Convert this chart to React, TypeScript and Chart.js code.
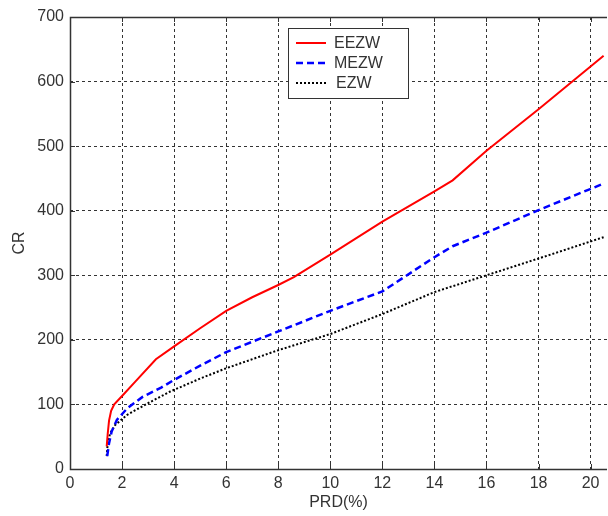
import React, { useEffect, useRef } from "react";
import { Chart, registerables } from "chart.js";

Chart.register(...registerables);

// EEZW (red, solid)
const eezwPRD = [1.41, 1.45, 1.5, 1.58, 1.7, 2.0, 2.5, 3.3, 4.0, 5.0, 6.0, 7.0, 8.0, 8.6, 10.0, 12.0, 14.0, 14.7, 16.0, 18.0, 20.5];
const eezwCR = [35, 55, 75, 90, 100, 113, 135, 170, 190, 218, 245, 266, 285, 297, 332, 383, 430, 447, 493, 557, 640];

// MEZW (blue, dashed)
const mezwPRD = [1.43, 1.5, 1.6, 1.8, 2.2, 2.8, 3.5, 4.0, 5.0, 6.0, 8.0, 10.0, 12.0, 14.0, 14.7, 16.0, 18.0, 20.5];
const mezwCR = [20, 40, 58, 76, 94, 112, 126, 138, 160, 181, 213, 245, 275, 328, 345, 366, 401, 442];

// EZW (black, dotted)
const ezwPRD = [1.41, 1.45, 1.54, 1.73, 2.2, 3.0, 3.85, 5.0, 6.0, 8.0, 10.0, 12.0, 14.0, 16.0, 18.0, 20.5];
const ezwCR = [20, 40, 55, 68, 84, 102, 120, 140, 156, 184, 209, 240, 274, 300, 326, 359];

const seriesNames = ["EEZW", "MEZW", "EZW"];
const xTitle = "PRD(%)";
const yTitle = "CR";

const FONT = "'Liberation Sans', Arial, sans-serif";
const TEXT = "#333333";

const toPoints = (xs: number[], ys: number[]) => xs.map((x, i) => ({ x, y: ys[i] }));

const styles = [
  { color: "#ff0000", dash: [] as number[], width: 2 },
  { color: "#0000ff", dash: [7, 4], width: 2.5 },
  { color: "#000000", dash: [2, 2], width: 2 },
];

const framePlugin = {
  id: "frame",
  afterDraw(chart: any) {
    const { ctx, chartArea } = chart;
    const { left, right, top, bottom } = chartArea;
    const xs = chart.scales.x;
    const ys = chart.scales.y;
    ctx.save();
    ctx.setLineDash([]);
    ctx.strokeStyle = "#333333";
    ctx.lineWidth = 1;
    // inner tick marks
    ctx.beginPath();
    xs.ticks.forEach((t: any) => {
      const px = Math.round(xs.getPixelForValue(t.value)) + 0.5;
      ctx.moveTo(px, bottom);
      ctx.lineTo(px, bottom - 5);
      ctx.moveTo(px, top);
      ctx.lineTo(px, top + 5);
    });
    ys.ticks.forEach((t: any) => {
      const py = Math.round(ys.getPixelForValue(t.value)) + 0.5;
      ctx.moveTo(left, py);
      ctx.lineTo(left + 5, py);
    });
    ctx.stroke();
    // frame
    ctx.lineWidth = 1.5;
    ctx.beginPath();
    ctx.moveTo(right, Math.round(top) + 0.5);
    ctx.lineTo(Math.round(left) + 0.5, Math.round(top) + 0.5);
    ctx.lineTo(Math.round(left) + 0.5, Math.round(bottom) + 0.5);
    ctx.lineTo(right, Math.round(bottom) + 0.5);
    ctx.stroke();

    // legend box
    const bx = 288.5, by = 28.5, bw = 120, bh = 70;
    ctx.fillStyle = "#ffffff";
    ctx.fillRect(bx, by, bw, bh);
    ctx.lineWidth = 1;
    ctx.strokeStyle = "#333333";
    ctx.strokeRect(bx, by, bw, bh);
    ctx.font = `16px ${FONT}`;
    ctx.textBaseline = "middle";
    ctx.textAlign = "left";
    seriesNames.forEach((name, i) => {
      const y = 43 + i * 20;
      const s = styles[i];
      ctx.strokeStyle = s.color;
      ctx.lineWidth = s.width;
      ctx.setLineDash(s.dash);
      ctx.beginPath();
      ctx.moveTo(296, y);
      ctx.lineTo(326, y);
      ctx.stroke();
      ctx.setLineDash([]);
      ctx.fillStyle = TEXT;
      ctx.fillText(name, i === 2 ? 336 : 334, y + 1);
    });
    ctx.restore();
  },
};

export default function App() {
  const ref = useRef<HTMLCanvasElement | null>(null);
  useEffect(() => {
    if (!ref.current) return;
    const datasets = [
      toPoints(eezwPRD, eezwCR),
      toPoints(mezwPRD, mezwCR),
      toPoints(ezwPRD, ezwCR),
    ].map((data, i) => ({
      label: seriesNames[i],
      data,
      borderColor: styles[i].color,
      backgroundColor: styles[i].color,
      borderWidth: styles[i].width,
      borderDash: styles[i].dash,
      pointRadius: 0,
      tension: 0,
      fill: false,
    }));
    const chart = new Chart(ref.current, {
      type: "line",
      data: { datasets },
      options: {
        animation: false,
        responsive: false,
        maintainAspectRatio: false,
        layout: { padding: { top: 17, right: 1, left: 0, bottom: 0 } },
        plugins: { legend: { display: false }, tooltip: { enabled: false } },
        scales: {
          x: {
            type: "linear",
            min: 0,
            max: 20.63,
            afterFit: (s: any) => {
              s.height = 47;
            },
            ticks: {
              stepSize: 2,
              includeBounds: false,
              autoSkip: false,
              maxRotation: 0,
              padding: 5,
              color: TEXT,
              font: { family: FONT, size: 16 },
            },
            grid: { color: "#333333", lineWidth: 1, drawTicks: false },
            border: { display: false, dash: [3, 3] },
            title: {
              display: true,
              text: xTitle,
              color: TEXT,
              font: { family: FONT, size: 16 },
              padding: { top: 0, bottom: 3.5 },
            },
          },
          y: {
            type: "linear",
            min: 0,
            max: 700,
            afterFit: (s: any) => {
              s.width = 70;
            },
            ticks: {
              stepSize: 100,
              padding: 6,
              color: TEXT,
              font: { family: FONT, size: 16 },
            },
            grid: { color: "#333333", lineWidth: 1, drawTicks: false },
            border: { display: false, dash: [3, 3] },
            title: {
              display: true,
              text: yTitle,
              color: TEXT,
              font: { family: FONT, size: 16 },
              padding: { top: 9.5, bottom: 0 },
            },
          },
        },
      },
      plugins: [framePlugin],
    });
    return () => chart.destroy();
  }, []);
  return (
    <div style={{ position: "absolute", left: 0, top: 0, width: 608, height: 516, background: "#fff" }}>
      <canvas ref={ref} width={608} height={516} style={{ display: "block", width: 608, height: 516 }} />
    </div>
  );
}
